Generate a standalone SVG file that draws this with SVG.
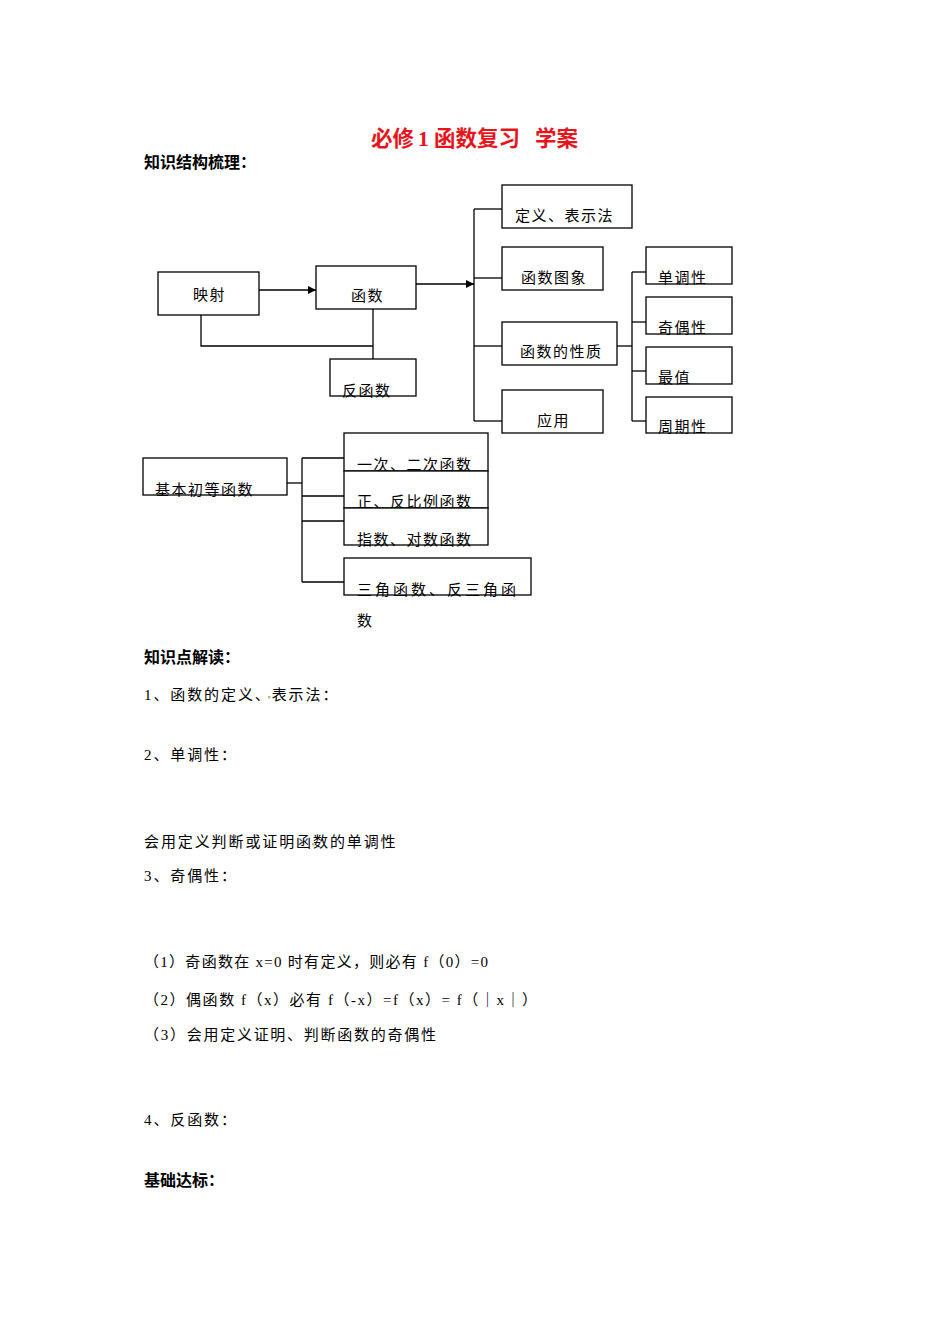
<svg xmlns="http://www.w3.org/2000/svg" width="950" height="1344" viewBox="0 0 950 1344">
<style>
  text { font-family: "Liberation Serif", "Noto Sans CJK SC", serif; fill: #000; }
  .box { fill: #fff; stroke: #000; stroke-width: 1.3; }
  .lbl { font-size: 15px; letter-spacing: 1.5px; }
  .wide { font-size: 15px; letter-spacing: 3px; }
  .body { font-size: 15px; letter-spacing: 1.9px; }
  .head { font-size: 16px; font-weight: bold; }
  .title { font-size: 21.5px; font-weight: bold; fill: #e8141c; }
  .conn { fill: none; stroke: #000; stroke-width: 1.3; }
</style>
<defs>
  <marker id="arr" viewBox="0 0 10 10" refX="10" refY="5" markerWidth="10" markerHeight="8" markerUnits="userSpaceOnUse" orient="auto">
    <path d="M0,0 L10,5 L0,10 Z" fill="#000"/>
  </marker>
</defs>
<rect width="950" height="1344" fill="#fff"/>

<text class="title" y="146"><tspan x="371">必修</tspan><tspan x="418">1</tspan><tspan x="434">函数复习</tspan><tspan x="535">学案</tspan></text>
<text class="head" x="144" y="168">知识结构梳理：</text>

<g id="connectors">
  <line class="conn" x1="259" y1="290" x2="316" y2="290" marker-end="url(#arr)"/>
  <line class="conn" x1="416" y1="284" x2="474" y2="284" marker-end="url(#arr)"/>
  <polyline class="conn" points="201,315 201,346 373,346"/>
  <line class="conn" x1="373" y1="309" x2="373" y2="359"/>
  <line class="conn" x1="474" y1="209" x2="474" y2="421"/>
  <line class="conn" x1="474" y1="209" x2="502" y2="209"/>
  <line class="conn" x1="474" y1="278" x2="502" y2="278"/>
  <line class="conn" x1="474" y1="346" x2="502" y2="346"/>
  <line class="conn" x1="474" y1="421" x2="502" y2="421"/>
  <line class="conn" x1="617" y1="346" x2="632" y2="346"/>
  <line class="conn" x1="632" y1="272" x2="632" y2="421"/>
  <line class="conn" x1="632" y1="272" x2="646" y2="272"/>
  <line class="conn" x1="632" y1="322" x2="646" y2="322"/>
  <line class="conn" x1="632" y1="371" x2="646" y2="371"/>
  <line class="conn" x1="632" y1="421" x2="646" y2="421"/>
  <line class="conn" x1="287" y1="483" x2="302" y2="483"/>
  <line class="conn" x1="302" y1="458" x2="302" y2="582"/>
  <line class="conn" x1="302" y1="458" x2="344" y2="458"/>
  <line class="conn" x1="302" y1="496" x2="344" y2="496"/>
  <line class="conn" x1="302" y1="521" x2="344" y2="521"/>
  <line class="conn" x1="302" y1="582" x2="344" y2="582"/>
</g>

<g id="node-yingshe">
  <rect class="box" x="158" y="272" width="101" height="43"/>
  <text class="lbl" x="193" y="300">映射</text>
</g>
<g id="node-hanshu">
  <rect class="box" x="316" y="266" width="100" height="43"/>
  <text class="lbl" x="351" y="301">函数</text>
</g>
<g id="node-fanhanshu">
  <rect class="box" x="330" y="359" width="86" height="37"/>
  <text class="lbl" x="342" y="396">反函数</text>
</g>
<g id="node-dingyi">
  <rect class="box" x="502" y="185" width="130" height="43"/>
  <text class="lbl" x="515" y="221">定义、表示法</text>
</g>
<g id="node-tuxiang">
  <rect class="box" x="502" y="247" width="101" height="43"/>
  <text class="lbl" x="521" y="283">函数图象</text>
</g>
<g id="node-xingzhi">
  <rect class="box" x="502" y="322" width="115" height="43"/>
  <text class="lbl" x="520" y="357">函数的性质</text>
</g>
<g id="node-yingyong">
  <rect class="box" x="502" y="390" width="101" height="43"/>
  <text class="lbl" x="537" y="426">应用</text>
</g>
<g id="node-dandiao">
  <rect class="box" x="646" y="247" width="86" height="37"/>
  <text class="lbl" x="658" y="283">单调性</text>
</g>
<g id="node-jiou">
  <rect class="box" x="646" y="297" width="86" height="37"/>
  <text class="lbl" x="658" y="333">奇偶性</text>
</g>
<g id="node-zuizhi">
  <rect class="box" x="646" y="347" width="86" height="37"/>
  <text class="lbl" x="658" y="383">最值</text>
</g>
<g id="node-zhouqi">
  <rect class="box" x="646" y="397" width="86" height="36"/>
  <text class="lbl" x="658" y="432">周期性</text>
</g>
<g id="node-jiben">
  <rect class="box" x="143" y="458" width="144" height="37"/>
  <text class="lbl" x="155" y="495">基本初等函数</text>
</g>
<g id="node-yici">
  <rect class="box" x="344" y="433" width="144" height="38"/>
  <text class="lbl" x="357" y="470">一次、二次函数</text>
</g>
<g id="node-zhengfan">
  <rect class="box" x="344" y="471" width="144" height="37"/>
  <text class="lbl" x="357" y="507">正、反比例函数</text>
</g>
<g id="node-zhishu">
  <rect class="box" x="344" y="508" width="144" height="37"/>
  <text class="lbl" x="357" y="545">指数、对数函数</text>
</g>
<g id="node-sanjiao">
  <rect class="box" x="344" y="558" width="187" height="37"/>
  <text class="wide" x="357" y="595">三角函数、反三角函</text>
  <text class="lbl" x="357" y="626">数</text>
</g>

<text class="head" x="144" y="663">知识点解读：</text>
<text class="body" x="144" y="700">1、函数的定义、表示法：</text>
<rect x="268" y="696" width="2.5" height="2.5" fill="#c8b880"/>
<text class="body" x="144" y="760">2、单调性：</text>
<text class="body" x="144" y="847">会用定义判断或证明函数的单调性</text>
<rect x="312" y="843" width="2.5" height="2.5" fill="#c8b880"/>
<text class="body" x="144" y="881">3、奇偶性：</text>
<text x="144" y="967" font-size="15" textLength="344" lengthAdjust="spacing">（1）奇函数在 x=0 时有定义，则必有 f（0）=0</text>
<text x="144" y="1005" font-size="15" textLength="393" lengthAdjust="spacing">（2）偶函数 f（x）必有 f（-x）=f（x）= f（｜x｜）</text>
<text x="144" y="1040" font-size="15" textLength="292" lengthAdjust="spacing">（3）会用定义证明、判断函数的奇偶性</text>
<text class="body" x="144" y="1125">4、反函数：</text>
<text class="head" x="144" y="1186">基础达标：</text>
</svg>
